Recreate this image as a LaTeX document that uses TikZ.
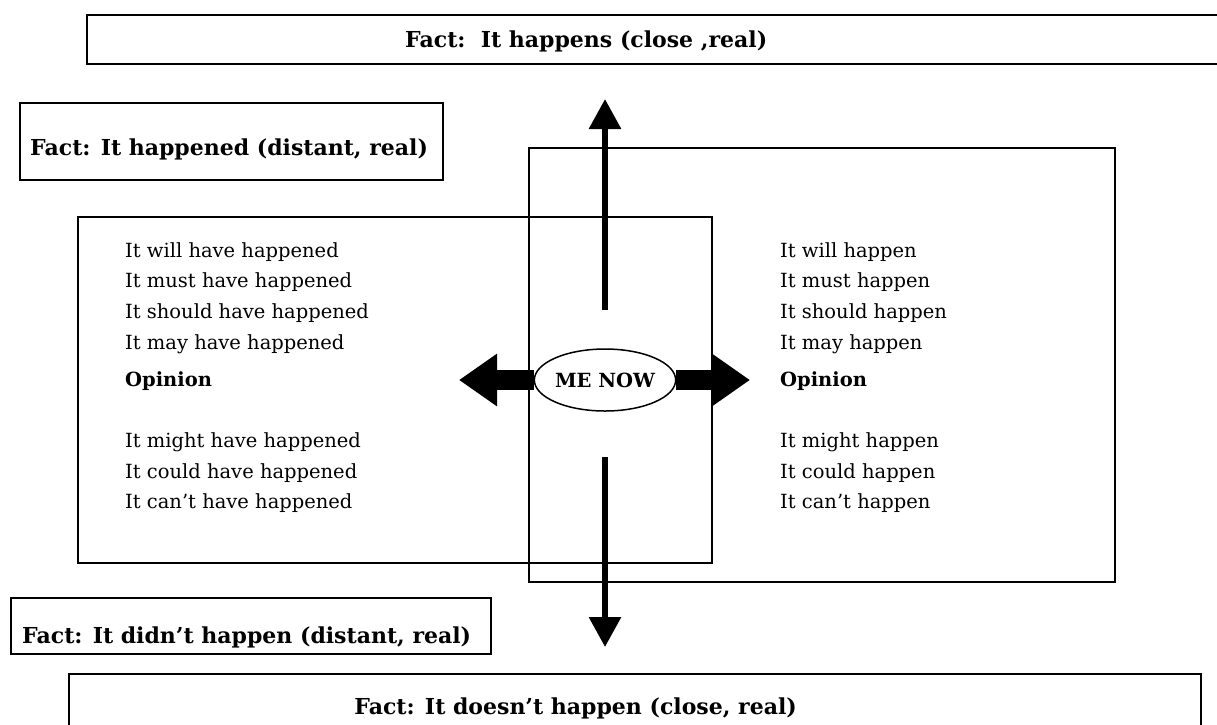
\documentclass[tikz,border=0pt]{standalone}
\usepackage{fontspec}
\setmainfont{DejaVu Serif}
\usetikzlibrary{arrows.meta,shapes.geometric}
\tikzset{
  frame/.style={draw, line width=1.5pt, rectangle, inner sep=0pt, anchor=north west},
  body/.style={anchor=base west, inner sep=0pt, font=\fontsize{19.5}{24}\selectfont},
  head/.style={anchor=base west, inner sep=0pt, font=\fontsize{19.5}{24}\selectfont\bfseries},
  fact/.style={anchor=base west, inner sep=0pt, font=\fontsize{22}{26}\selectfont\bfseries},
  vert/.style={line width=6pt, -{Triangle[width=31pt,length=30pt]}},
  horiz/.style={line width=20pt, -{Triangle[width=50pt,length=38pt]}},
}
\begin{document}
\begin{tikzpicture}[x=1pt,y=-1pt]
\useasboundingbox (0,0) rectangle (1217,724);
\clip (0,0) rectangle (1217,724);
% frames
\node[frame, minimum width=1150pt, minimum height=49pt] (topbox) at (86,14) {};
\node[frame, minimum width=423pt, minimum height=77pt] (pastbox) at (19,102) {};
\node[frame, minimum width=586pt, minimum height=434pt] (presbox) at (528,147) {};
\node[frame, minimum width=634pt, minimum height=346pt] (perfbox) at (77,216) {};
\node[frame, minimum width=480pt, minimum height=56pt] (notpastbox) at (10,597) {};
\node[frame, minimum width=1132pt, minimum height=80pt] (notbox) at (68,673) {};
% fact captions
\node[fact] (t1) at (405,47) {Fact:\ \ It happens (close ,real)};
\node[fact] (t2) at (30,155) {Fact: It happened (distant, real)};
\node[fact] (t3) at (22,643) {Fact: It didn’t happen (distant, real)};
\node[fact, anchor=base east] (t4) at (797,714) {Fact: It doesn’t happen (close, real)};
% left column
\node[body] (l1) at (125,257) {It will have happened};
\node[body] (l2) at (125,287) {It must have happened};
\node[body] (l3) at (125,318) {It should have happened};
\node[body] (l4) at (125,349) {It may have happened};
\node[head] (lo) at (125,386) {Opinion};
\node[body] (l5) at (125,447) {It might have happened};
\node[body] (l6) at (125,478) {It could have happened};
\node[body] (l7) at (125,508) {It can’t have happened};
% right column
\node[body] (r1) at (780,257) {It will happen};
\node[body] (r2) at (780,287) {It must happen};
\node[body] (r3) at (780,318) {It should happen};
\node[body] (r4) at (780,349) {It may happen};
\node[head] (ro) at (780,386) {Opinion};
\node[body] (r5) at (780,447) {It might happen};
\node[body] (r6) at (780,478) {It could happen};
\node[body] (r7) at (780,508) {It can’t happen};
% centre
\node[draw, line width=1.5pt, ellipse, minimum width=136pt, minimum height=62pt, inner sep=0pt,
      font=\fontsize{19.5}{22}\selectfont\bfseries, fill=white] (me) at (605,380) {ME NOW};
\coordinate (upstart) at (605,310);
\coordinate (uptip) at (605,99);
\coordinate (dnstart) at (605,457);
\coordinate (dntip) at (605,647);
\coordinate (lftip) at (459,380);
\coordinate (rttip) at (750,380);
\draw[vert] (upstart) -- (uptip);
\draw[vert] (dnstart) -- (dntip);
\draw[horiz] (me.west) -- (lftip);
\draw[horiz] (me.east) -- (rttip);
\end{tikzpicture}
\end{document}
